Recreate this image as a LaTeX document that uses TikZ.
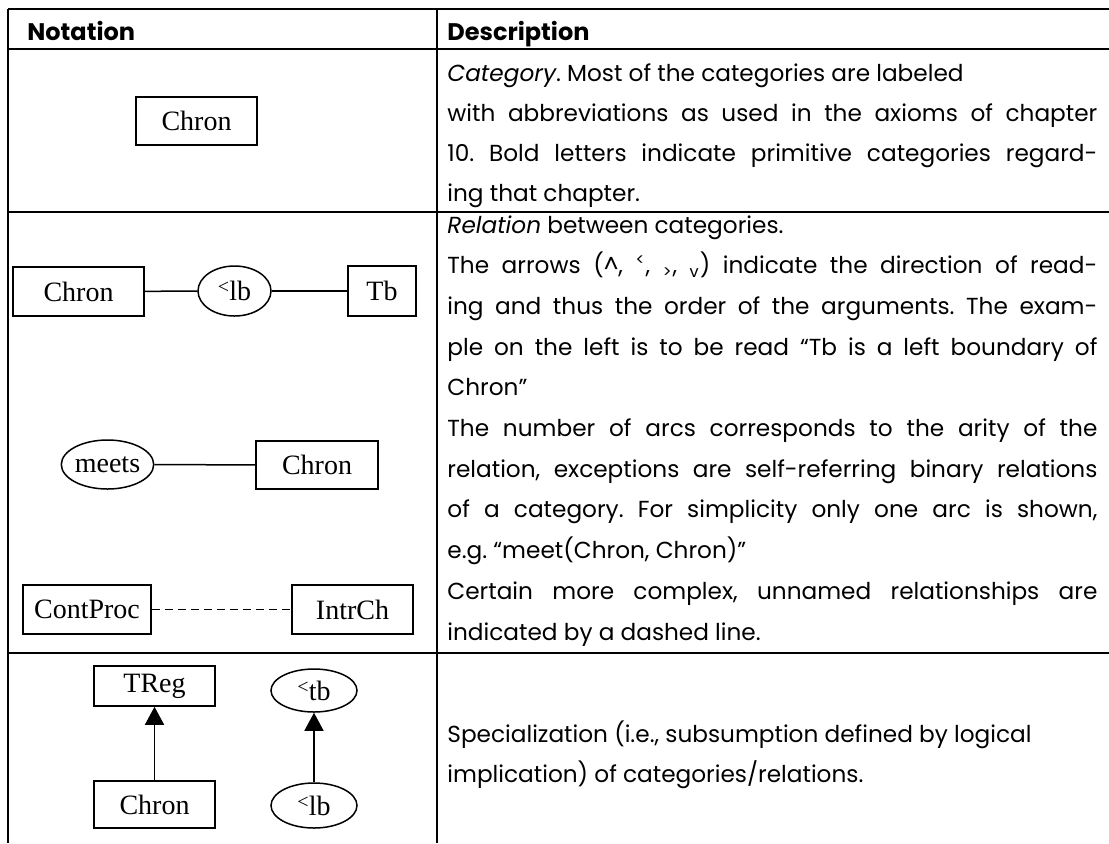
\documentclass[tikz,border=0pt]{standalone}
\usepackage{fontspec}
\setmainfont{Poppins}
\newfontfamily\tnr{Liberation Serif}
\usetikzlibrary{arrows.meta,shapes.geometric}
\frenchspacing
\newcommand\jst[1]{\makebox[325pt][s]{#1}}
\newcommand\ltm{\raisebox{0.55ex}{\fontsize{10}{10}\selectfont <}}
\begin{document}
\begin{tikzpicture}[x=0.5pt,y=-0.5pt,
  rule/.style={line width=1pt},
  catbox/.style={draw, line width=0.75pt, rectangle, inner sep=0pt, font=\tnr\fontsize{14}{16}\selectfont},
  relell/.style={draw, line width=0.75pt, ellipse, inner sep=0pt, font=\tnr\fontsize{14}{16}\selectfont},
  desc/.style={anchor=base west, inner sep=0pt, font=\fontsize{11.6}{14}\selectfont},
  hdr/.style={anchor=base west, inner sep=0pt, font=\bfseries\fontsize{12}{14}\selectfont},
  conn/.style={line width=0.75pt},
  dconn/.style={line width=0.75pt, dash pattern=on 4pt off 2.5pt},
  spec/.style={line width=0.75pt, -{Triangle[width=9.5pt,length=9pt]}}
]
\useasboundingbox (0,0) rectangle (1109,843);
% table rules
\draw[rule] (8,9) -- (1109,9);
\draw[rule] (8,49) -- (1109,49);
\draw[rule] (8,212) -- (1109,212);
\draw[rule] (8,653) -- (1109,653);
\draw[rule] (8,9) -- (8,843);
\draw[rule] (437,9) -- (437,843);
% headers
\node[hdr] (hN) at (27,40) {Notation};
\node[hdr] (hD) at (447,40) {Description};
% row 1 notation
\node[catbox, minimum width=60.5pt, minimum height=24pt] (c1) at (196.5,121) {Chron};
% row 1 description
\node[desc] (d11) at (447,81) {\textit{Category}. Most of the categories are labeled};
\node[desc] (d12) at (447,121) {\jst{with abbreviations as used in the axioms of chapter}};
\node[desc] (d13) at (447,161) {\jst{10. Bold letters indicate primitive categories regard-}};
\node[desc] (d14) at (447,201) {ing that chapter.};
% row 2 notation
\node[catbox, minimum width=65.5pt, minimum height=24.5pt] (c2) at (78.5,291.5) {Chron};
\node[relell, minimum width=36.5pt, minimum height=25pt] (lb2) at (234.5,291) {\ltm lb};
\node[catbox, minimum width=34pt, minimum height=25pt] (tb2) at (382,291) {Tb};
\draw[conn] (c2) -- (lb2);
\draw[conn] (lb2) -- (tb2);
\node[relell, minimum width=43.5pt, minimum height=24.5pt] (meets) at (107.5,464.5) {meets};
\node[catbox, minimum width=61pt, minimum height=24pt] (c3) at (317,465) {Chron};
\draw[conn] (meets) -- (c3);
\node[catbox, minimum width=64pt, minimum height=24.5pt] (cp) at (87,609.5) {ContProc};
\node[catbox, minimum width=60.5pt, minimum height=24.5pt] (ic) at (352.5,609.5) {IntrCh};
\draw[dconn] (cp) -- (ic);
% row 2 description
\node[desc] (d21) at (447,233) {\textit{Relation} between categories.};
\node[desc] (d22) at (447,273.7) {\jst{The arrows (\textasciicircum, \textsuperscript{<}, \textsubscript{>}, \textsubscript{v}) indicate the direction of read-}};
\node[desc] (d23) at (447,314.4) {\jst{ing and thus the order of the arguments. The exam-}};
\node[desc] (d24) at (447,355.1) {\jst{ple on the left is to be read “Tb is a left boundary of}};
\node[desc] (d25) at (447,395.8) {Chron”};
\node[desc] (d26) at (447,436.5) {\jst{The number of arcs corresponds to the arity of the}};
\node[desc] (d27) at (447,477.2) {\jst{relation, exceptions are self-referring binary relations}};
\node[desc] (d28) at (447,517.9) {\jst{of a category. For simplicity only one arc is shown,}};
\node[desc] (d29) at (447,558.6) {e.g. “meet(Chron, Chron)”};
\node[desc] (d210) at (447,599.3) {\jst{Certain more complex, unnamed relationships are}};
\node[desc] (d211) at (447,640) {indicated by a dashed line.};
% row 3 notation
\node[catbox, minimum width=60.5pt, minimum height=20pt] (treg) at (154.5,686) {TReg};
\node[catbox, minimum width=60.5pt, minimum height=23.5pt] (c4) at (154.5,804.5) {Chron};
\draw[spec] (c4) -- (treg);
\node[relell, minimum width=43pt, minimum height=21.5pt] (tb3) at (314,690.5) {\ltm tb};
\node[relell, minimum width=43pt, minimum height=22.5pt] (lb3) at (314,805.5) {\ltm lb};
\draw[spec] (lb3) -- (tb3);
% row 3 description
\node[desc] (d31) at (447,742) {Specialization (i.e., subsumption defined by logical};
\node[desc] (d32) at (447,782) {implication) of categories/relations.};
\end{tikzpicture}
\end{document}
